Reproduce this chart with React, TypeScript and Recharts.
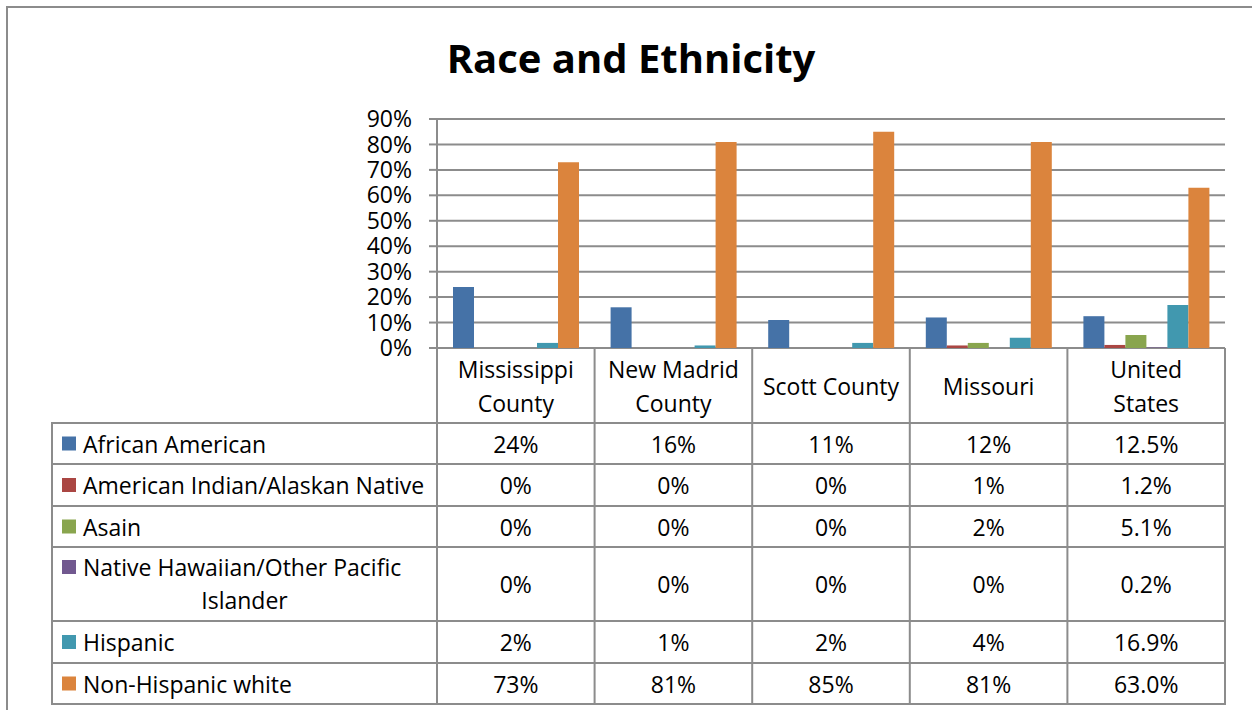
import { BarChart, Bar, XAxis, YAxis, CartesianGrid } from 'recharts';

const categories = ['Mississippi County', 'New Madrid County', 'Scott County', 'Missouri', 'United States'];
const categoryLines = [['Mississippi', 'County'], ['New Madrid', 'County'], ['Scott County'], ['Missouri'], ['United', 'States']];
const decimals = [0, 0, 0, 0, 1];

const africanAmerican = [24, 16, 11, 12, 12.5];
const americanIndian = [0, 0, 0, 1, 1.2];
const asain = [0, 0, 0, 2, 5.1];
const nativeHawaiian = [0, 0, 0, 0, 0.2];
const hispanic = [2, 1, 2, 4, 16.9];
const nonHispanicWhite = [73, 81, 85, 81, 63.0];

const yTicks = [0, 10, 20, 30, 40, 50, 60, 70, 80, 90];

const series = [
  { key: 'aa', name: 'African American', values: africanAmerican, color: '#4572A7' },
  { key: 'ai', name: 'American Indian/Alaskan Native', values: americanIndian, color: '#AA4643' },
  { key: 'as', name: 'Asain', values: asain, color: '#89A54E' },
  { key: 'nh', name: 'Native Hawaiian/Other Pacific Islander', values: nativeHawaiian, color: '#71588F' },
  { key: 'hi', name: 'Hispanic', values: hispanic, color: '#4198AF' },
  { key: 'nw', name: 'Non-Hispanic white', values: nonHispanicWhite, color: '#DB843D' },
];

const data = categories.map((name, i) => {
  const row: Record<string, any> = { name };
  series.forEach((s) => (row[s.key] = s.values[i]));
  return row;
});

// layout
const W = 1252;
const H = 710;
const PLOT_LEFT = 437;
const PLOT_RIGHT = 1225;
const PLOT_TOP = 119;
const PLOT_BOTTOM = 348;
const HEADER_H = 75;
const TABLE_LEFT = 52;
const rowLines = [423, 464, 506, 547, 621, 663, 704];
const LINE = '#8c8c8c';
const FONT = '"Open Sans", Lato, sans-serif';
const FS = 23;

const band = (PLOT_RIGHT - PLOT_LEFT) / categories.length;

function CategoryTick(props: any) {
  const { x, index } = props;
  const lines = categoryLines[index] || [];
  const mid = PLOT_BOTTOM + HEADER_H / 2;
  const start = mid - ((lines.length - 1) * 34) / 2;
  return (
    <g>
      {lines.map((l, i) => (
        <text key={i} x={x} y={start + i * 34} textAnchor="middle" dominantBaseline="central" fontFamily={FONT} fontSize={FS} fill="#000">
          {l}
        </text>
      ))}
    </g>
  );
}

export default function App() {
  const chartH = PLOT_BOTTOM + HEADER_H + 7;
  return (
    <div style={{ position: 'absolute', left: 0, top: 0, width: W, height: H, background: '#fff', overflow: 'hidden' }}>
      <div style={{ position: 'absolute', left: 0, top: 0 }}>
        <BarChart
          width={W}
          height={chartH}
          data={data}
          margin={{ top: PLOT_TOP, right: W - PLOT_RIGHT, bottom: chartH - PLOT_BOTTOM - HEADER_H, left: PLOT_LEFT - 60 }}
          barCategoryGap={16}
          barGap={0}
        >
          <CartesianGrid vertical={false} stroke={LINE} strokeWidth={2} />
          <XAxis dataKey="name" height={HEADER_H} axisLine={false} tickLine={false} tick={<CategoryTick />} interval={0} />
          <YAxis
            width={60}
            domain={[0, 90]}
            ticks={yTicks}
            tickFormatter={(v) => `${v}%`}
            axisLine={{ stroke: LINE, strokeWidth: 2 }}
            tickLine={{ stroke: LINE, strokeWidth: 2 }}
            tickSize={8}
            tickMargin={17}
            tick={{ fontFamily: FONT, fontSize: FS, fill: '#000' }}
            interval={0}
          />
          {series.map((s) => (
            <Bar key={s.key} dataKey={s.key} name={s.name} fill={s.color} isAnimationActive={false} />
          ))}
        </BarChart>
      </div>
      <svg width={W} height={H} style={{ position: 'absolute', left: 0, top: 0, pointerEvents: 'none' }}>
        <path d={`M7 ${H} V7 H${W}`} fill="none" stroke={LINE} strokeWidth={2} />
        <text x={631} y={73} textAnchor="middle" fontFamily={FONT} fontWeight={700} fontSize={40} fill="#000">
          Race and Ethnicity
        </text>
        {/* data table grid */}
        <line x1={PLOT_LEFT} x2={PLOT_LEFT} y1={PLOT_BOTTOM} y2={rowLines[rowLines.length - 1]} stroke={LINE} strokeWidth={2} />
        {categories.map((_, i) => (
          <line key={i} x1={PLOT_LEFT + (i + 1) * band} x2={PLOT_LEFT + (i + 1) * band} y1={PLOT_BOTTOM} y2={rowLines[rowLines.length - 1]} stroke={LINE} strokeWidth={2} />
        ))}
        <line x1={TABLE_LEFT} x2={TABLE_LEFT} y1={rowLines[0]} y2={rowLines[rowLines.length - 1]} stroke={LINE} strokeWidth={2} />
        {rowLines.map((y, i) => (
          <line key={i} x1={TABLE_LEFT - 1} x2={PLOT_RIGHT + 1} y1={y} y2={y} stroke={LINE} strokeWidth={2} />
        ))}
        {series.map((s, r) => {
          const top = rowLines[r];
          const bottom = rowLines[r + 1];
          const mid = (top + bottom) / 2;
          const wrapped = s.key === 'nh';
          const labelY = wrapped ? top + 20 : mid;
          return (
            <g key={s.key}>
              <rect x={62} y={labelY - 7} width={14} height={14} fill={s.color} />
              {wrapped ? (
                <>
                  <text x={83} y={labelY} dominantBaseline="central" fontFamily={FONT} fontSize={FS} fill="#000">
                    Native Hawaiian/Other Pacific
                  </text>
                  <text x={(TABLE_LEFT + PLOT_LEFT) / 2} y={labelY + 33} textAnchor="middle" dominantBaseline="central" fontFamily={FONT} fontSize={FS} fill="#000">
                    Islander
                  </text>
                </>
              ) : (
                <text x={83} y={labelY} dominantBaseline="central" fontFamily={FONT} fontSize={FS} fill="#000">
                  {s.name}
                </text>
              )}
              {s.values.map((v, c) => (
                <text key={c} x={PLOT_LEFT + (c + 0.5) * band} y={mid} textAnchor="middle" dominantBaseline="central" fontFamily={FONT} fontSize={FS} fill="#000">
                  {v.toFixed(decimals[c])}%
                </text>
              ))}
            </g>
          );
        })}
      </svg>
    </div>
  );
}
